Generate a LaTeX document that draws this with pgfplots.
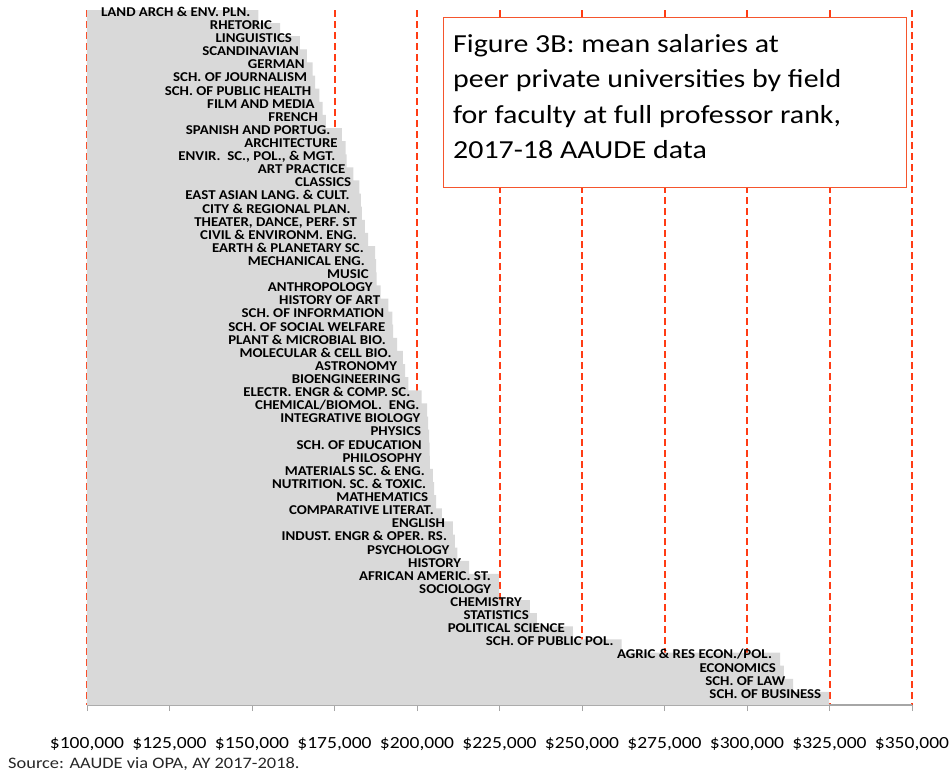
\documentclass[border=0pt]{standalone}
\usepackage{fontspec}
\setmainfont{Carlito}[FakeStretch=1.15]
\newfontfamily\barfont{Carlito}[FakeStretch=1.1]
\usepackage{pgfplots}
\pgfplotsset{compat=1.18}
\definecolor{gridred}{RGB}{255,60,20}
\definecolor{boxred}{RGB}{245,85,45}
\definecolor{bargray}{RGB}{217,217,217}
\definecolor{axisgray}{RGB}{166,166,166}

\begin{document}
\begin{tikzpicture}
\path[use as bounding box] (-87pt,-69pt) rectangle (862pt,705pt);
\begin{axis}[
  scale only axis, width=825pt, height=695pt,
  at={(0pt,0pt)}, anchor=south west,
  xbar, bar width=1,
  xmin=100000, xmax=350000, ymin=0.5, ymax=53.5, y dir=reverse,
  axis x line*=bottom, axis y line=none,
  x axis line style={draw=axisgray, line width=1.2pt, -},
  xtick={100000,125000,150000,175000,200000,225000,250000,275000,300000,325000,350000},
  xticklabels={{\$100,000},{\$125,000},{\$150,000},{\$175,000},{\$200,000},{\$225,000},
    {\$250,000},{\$275,000},{\$300,000},{\$325,000},{\$350,000}},
  xticklabel style={font=\fontsize{17}{17}\selectfont, anchor=base, yshift=-37pt},
  ytick=\empty,
  tick align=outside, major tick length=6pt,
  xtick style={draw=axisgray, line width=0.8pt},
  xmajorgrids=true,
  major grid style={draw=gridred, line width=2pt, dash pattern=on 7pt off 4pt},
]
\addplot[fill=bargray, draw=none,
  point meta=explicit symbolic,
  nodes near coords={\llap{\smash{\pgfplotspointmeta}}\vphantom{A}},
  every node near coord/.append style={color=black, inner sep=0pt, xshift=-8pt,
    font=\barfont\bfseries\fontsize{13.5}{13.5}\selectfont}]
coordinates {
(151900,1) [LAND ARCH \& ENV. PLN.]
(158500,2) [RHETORIC]
(164500,3) [LINGUISTICS]
(166600,4) [SCANDINAVIAN]
(168400,5) [GERMAN]
(169100,6) [SCH. OF JOURNALISM]
(170400,7) [SCH. OF PUBLIC HEALTH]
(171400,8) [FILM AND MEDIA]
(172400,9) [FRENCH]
(177200,10) [SPANISH AND PORTUG.\ ]
(178400,11) [ARCHITECTURE]
(178700,12) [ENVIR.\ \ SC., POL., \& MGT.\ ]
(180700,13) [ART PRACTICE]
(182500,14) [CLASSICS]
(183000,15) [EAST ASIAN LANG. \& CULT.\ ]
(183300,16) [CITY \& REGIONAL PLAN.\ ]
(184200,17) [THEATER, DANCE, PERF. ST]
(185200,18) [CIVIL \& ENVIRONM. ENG.\ ]
(187300,19) [EARTH \& PLANETARY SC.\ ]
(187600,20) [MECHANICAL ENG.\ ]
(187800,21) [MUSIC]
(189000,22) [ANTHROPOLOGY]
(191300,23) [HISTORY OF ART]
(192500,24) [SCH. OF INFORMATION]
(192800,25) [SCH. OF SOCIAL WELFARE]
(194000,26) [PLANT \& MICROBIAL BIO.\ ]
(195700,27) [MOLECULAR \& CELL BIO.\ ]
(196400,28) [ASTRONOMY]
(197400,29) [BIOENGINEERING]
(201400,30) [ELECTR. ENGR \& COMP. SC.\ ]
(203100,31) [CHEMICAL/BIOMOL.\ \ ENG.]
(203400,32) [INTEGRATIVE BIOLOGY]
(203700,33) [PHYSICS]
(203800,34) [SCH. OF EDUCATION]
(203900,35) [PHILOSOPHY]
(204800,36) [MATERIALS SC. \& ENG.]
(205200,37) [NUTRITION. SC. \& TOXIC.]
(205800,38) [MATHEMATICS]
(207500,39) [COMPARATIVE LITERAT.]
(210900,40) [ENGLISH]
(211500,41) [INDUST. ENGR \& OPER. RS.]
(212200,42) [PSYCHOLOGY]
(215800,43) [HISTORY]
(224800,44) [AFRICAN AMERIC. ST.]
(224900,45) [SOCIOLOGY]
(234200,46) [CHEMISTRY]
(236300,47) [STATISTICS]
(247200,48) [POLITICAL SCIENCE]
(262000,49) [SCH. OF PUBLIC POL.]
(310000,50) [AGRIC \& RES ECON./POL.]
(311200,51) [ECONOMICS]
(314000,52) [SCH. OF LAW]
(324900,53) [SCH. OF BUSINESS]
};
\end{axis}
% title box
\draw[boxred, line width=1pt, fill=white] (356pt,517pt) rectangle (819pt,687pt);
\begin{scope}[every node/.style={anchor=base west, inner sep=0pt, font=\fontsize{26}{26}\selectfont}]
\node at (366pt,652pt) {Figure 3B: mean salaries at};
\node at (366pt,617pt) {peer private universities by field};
\node at (366pt,581.5pt) {for faculty at full professor rank,};
\node at (366pt,546pt) {2017-18 AAUDE data};
\end{scope}
\node[anchor=base west, inner sep=0pt, font=\fontsize{16}{16}\selectfont, text=black!85]
  at (-79pt,-63pt) {Source: AAUDE via OPA, AY 2017-2018.};
\end{tikzpicture}
\end{document}
